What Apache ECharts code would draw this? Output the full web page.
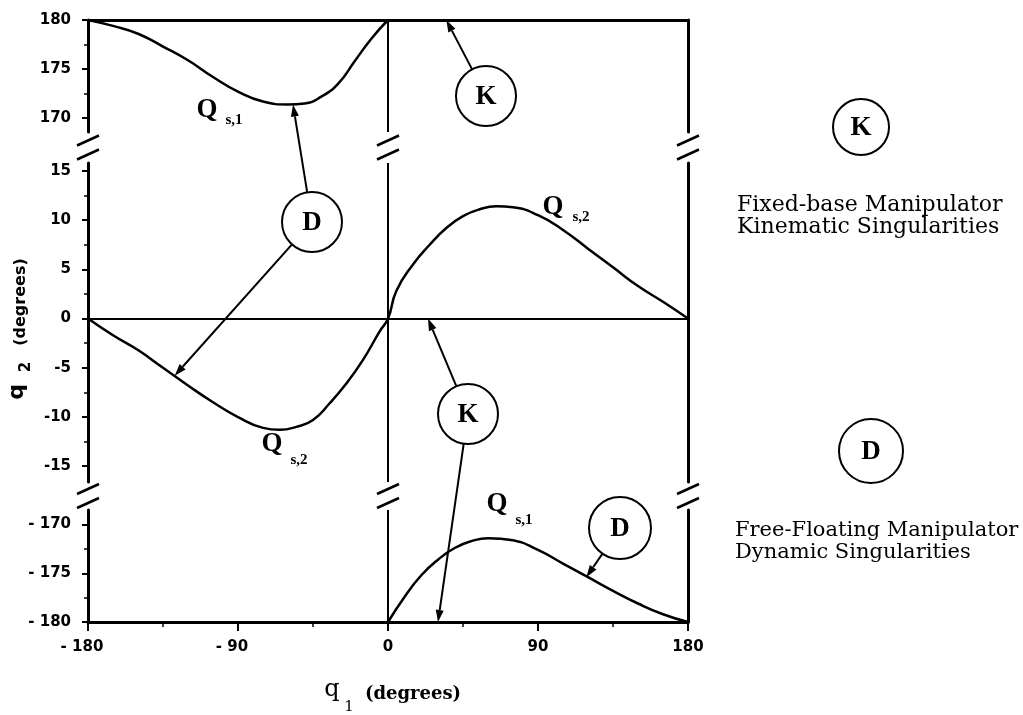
<!DOCTYPE html>
<html>
<head>
<meta charset="utf-8">
<script src="https://cdn.jsdelivr.net/npm/echarts@6/dist/echarts.min.js"></script>
<style>
  html, body { margin: 0; padding: 0; background: #fff; }
  #chart { width: 1023px; height: 715px; }
</style>
</head>
<body>
<div id="chart"></div>
<script>
// Singular configurations of the two-link manipulator, q1 / q2 in degrees.
// Q_s,1 (upper branch, q2 near +180)
const qs1UpperQ1 = [-180, -165, -150, -135, -120, -105, -90, -75, -60, -50, -40, -30, -20, -10, 0];
const qs1UpperQ2 = [180, 179.4, 178.6, 177.3, 175.9, 174.2, 172.7, 171.7, 171.4, 171.5, 172.2, 173.5, 175.8, 178.1, 180];
// Q_s,1 (lower branch, q2 near -180)
const qs1LowerQ1 = [0, 10, 20, 30, 40, 50, 60, 75, 90, 105, 120, 135, 150, 165, 180];
const qs1LowerQ2 = [-180, -177.4, -175.2, -173.6, -172.4, -171.7, -171.4, -171.6, -172.6, -174.0, -175.4, -176.8, -178.1, -179.2, -180];
// Q_s,2 (crosses the origin)
const qs2Q1 = [-180, -165, -150, -135, -120, -105, -90, -75, -65, -55, -45, -35, -25, -15, -5, 0, 5, 15, 25, 35, 45, 55, 65, 75, 90, 105, 120, 135, 150, 165, 180];
const qs2Q2 = [0, -1.7, -3.2, -5.0, -6.8, -8.5, -10.0, -11.1, -11.3, -11.0, -10.3, -8.6, -6.6, -4.2, -1.3, 0, 2.8, 5.5, 7.5, 9.2, 10.4, 11.1, 11.4, 11.3, 10.5, 9.0, 7.1, 5.2, 3.3, 1.7, 0];

// Tick values and their printed labels
const xTickValues = [-180, -90, 0, 90, 180];
const xTickLabels = ['- 180', '- 90', '0', '90', '180'];
const yTopTicks = [170, 175, 180];
const yTopLabels = ['170', '175', '180'];
const yMidTicks = [-15, -10, -5, 0, 5, 10, 15];
const yMidLabels = ['-15', '-10', '-5', '0', '5', '10', '15'];
const yBotTicks = [-180, -175, -170];
const yBotLabels = ['- 180', '- 175', '- 170'];
const yTopMinor = [172.5, 177.5];
const yMidMinor = [-12.5, -7.5, -2.5, 2.5, 7.5, 12.5];
const yBotMinor = [-177.5, -172.5];

// Points the annotation arrows aim at: [segment, q1, q2]
const kinematicTargets = [[0, 35, 180], [1, 24, 0], [2, 30, -180]];
const dynamicTargets = [[0, -57, 171.4], [1, -128, -5.8], [2, 119, -175.4]];

// ---- layout of the three stacked segments of the broken q2 axis ----
const segRanges = [[168.6, 180], [-16.6, 15.8], [-180, -168.5]];
const segBoxes = [{ top: 20, height: 112 }, { top: 163, height: 319 }, { top: 510, height: 112 }];
const segTicks = [yTopTicks, yMidTicks, yBotTicks];
const segLabels = [yTopLabels, yMidLabels, yBotLabels];
const segMinor = [yTopMinor, yMidMinor, yBotMinor];

const BLACK = '#000';
const tickFont = { fontFamily: 'DejaVu Sans', fontWeight: 'bold', fontSize: 15, color: BLACK };

function zip(a, b) { return a.map((v, i) => [v, b[i]]); }
function lookup(values, labels, v) {
  const i = values.findIndex(t => Math.abs(t - v) < 1e-6);
  return i < 0 ? '' : labels[i];
}

const grid = segBoxes.map(b => ({ left: 88, right: 335, top: b.top, height: b.height }));

const xAxis = [0, 1, 2].map(i => ({
  type: 'value', gridIndex: i, min: -180, max: 180, interval: 90,
  position: i === 0 ? 'top' : 'bottom',
  axisLine: { show: true, onZero: i === 1, lineStyle: { color: BLACK, width: i === 1 ? 2 : 3 } },
  axisTick: { show: i === 2, length: 9, lineStyle: { color: BLACK, width: 2 } },
  minorTick: { show: i === 2, splitNumber: 2, length: 5, lineStyle: { color: BLACK, width: 1.5 } },
  axisLabel: {
    show: i === 2, margin: 18, showMinLabel: true, showMaxLabel: true,
    formatter: v => {
      const s = lookup(xTickValues, xTickLabels, v);
      return s.indexOf('- ') === 0 ? '{n|' + s + '}' : '{p|' + s + '}';
    },
    rich: {
      n: Object.assign({ padding: [0, 12, 0, 0] }, tickFont),
      p: Object.assign({}, tickFont)
    }
  },
  splitLine: { show: false }, minorSplitLine: { show: false }
}));

const yAxis = [];
[0, 1, 2].forEach(i => {
  const [mn, mx] = segRanges[i];
  // main axis: line, major ticks and labels
  yAxis.push({
    type: 'value', gridIndex: i, min: mn, max: mx, position: 'left',
    axisLine: { show: true, onZero: false, lineStyle: { color: BLACK, width: 3 } },
    axisTick: { show: true, customValues: segTicks[i], length: 6, lineStyle: { color: BLACK, width: 2 } },
    axisLabel: Object.assign({
      show: true, customValues: segTicks[i], margin: 17,
      formatter: v => lookup(segTicks[i], segLabels[i], v)
    }, tickFont),
    splitLine: { show: false }
  });
  // minor ticks
  yAxis.push({
    type: 'value', gridIndex: i, min: mn, max: mx, position: 'left',
    axisLine: { show: false, onZero: false },
    axisTick: { show: true, customValues: segMinor[i], length: 4, lineStyle: { color: BLACK, width: 1.5 } },
    axisLabel: { show: false }, splitLine: { show: false }
  });
  // right frame
  yAxis.push({
    type: 'value', gridIndex: i, min: mn, max: mx, position: 'right',
    axisLine: { show: true, onZero: false, lineStyle: { color: BLACK, width: 3 } },
    axisTick: { show: false }, axisLabel: { show: false }, splitLine: { show: false }
  });
});

const curveStyle = { type: 'line', smooth: true, symbol: 'none', silent: true,
  lineStyle: { color: BLACK, width: 2.5 } };

const series = [
  Object.assign({ name: 'Qs1 upper', xAxisIndex: 0, yAxisIndex: 0, data: zip(qs1UpperQ1, qs1UpperQ2) }, curveStyle),
  Object.assign({ name: 'Qs2', xAxisIndex: 1, yAxisIndex: 3, data: zip(qs2Q1, qs2Q2) }, curveStyle),
  Object.assign({ name: 'Qs1 lower', xAxisIndex: 2, yAxisIndex: 6, data: zip(qs1LowerQ1, qs1LowerQ2) }, curveStyle)
];
// the q1 = 0 line through every segment
[0, 1, 2].forEach(i => {
  series.push({
    type: 'line', xAxisIndex: i, yAxisIndex: 3 * i, symbol: 'none', silent: true,
    data: [[0, segRanges[i][0]], [0, segRanges[i][1]]],
    lineStyle: { color: BLACK, width: 2 }
  });
});

const chart = echarts.init(document.getElementById('chart'));
chart.setOption({ animation: false, backgroundColor: '#fff', grid, xAxis, yAxis, series });

// ---------- annotations ----------
const toPx = (seg, q1, q2) => chart.convertToPixel({ xAxisIndex: seg, yAxisIndex: 3 * seg }, [q1, q2]);

function text(str, x, y, font, align, extra) {
  return Object.assign({
    type: 'text', x, y, silent: true,
    style: { text: str, font, fill: BLACK, textAlign: align || 'center', align: align || 'center',
      textVerticalAlign: 'middle', verticalAlign: 'middle' }
  }, extra || {});
}
function seg(x1, y1, x2, y2, w) {
  return { type: 'line', silent: true, shape: { x1, y1, x2, y2 },
    style: { stroke: BLACK, lineWidth: w || 2, lineCap: 'butt' } };
}
const letterFont = 'bold 27px "Liberation Serif"';
function ring(cx, cy, r, letter) {
  return [
    { type: 'circle', silent: true, shape: { cx, cy, r }, style: { fill: '#fff', stroke: BLACK, lineWidth: 2 } },
    text(letter, cx, cy + 1, letterFont)
  ];
}
function arrow(cx, cy, r, tip) {
  const dx = tip[0] - cx, dy = tip[1] - cy;
  const len = Math.hypot(dx, dy), ux = dx / len, uy = dy / len;
  const sx = cx + ux * r, sy = cy + uy * r;
  const head = 12, half = 4;
  const bx = tip[0] - ux * head, by = tip[1] - uy * head;
  return [
    seg(sx, sy, bx, by, 2),
    { type: 'polygon', silent: true,
      shape: { points: [[tip[0], tip[1]], [bx - uy * half, by + ux * half], [bx + uy * half, by - ux * half]] },
      style: { fill: BLACK } }
  ];
}

const g = [];

// break marks on the vertical lines
[[0, 1], [1, 2]].forEach(([a, b]) => {
  [-180, 0, 180].forEach(q1 => {
    const p1 = toPx(a, q1, segRanges[a][0]);
    const p2 = toPx(b, q1, segRanges[b][1]);
    const cx = p1[0], cy = (p1[1] + p2[1]) / 2;
    g.push(seg(cx - 11, cy - 2, cx + 11, cy - 12, 2.5));
    g.push(seg(cx - 11, cy + 12, cx + 11, cy + 2, 2.5));
  });
});

// circled markers with arrows
const markers = [
  { letter: 'D', cx: 312, cy: 222, r: 30, targets: [dynamicTargets[0], dynamicTargets[1]] },
  { letter: 'K', cx: 486, cy: 96, r: 30, targets: [kinematicTargets[0]] },
  { letter: 'K', cx: 468, cy: 414, r: 30, targets: [kinematicTargets[1], kinematicTargets[2]] },
  { letter: 'D', cx: 620, cy: 528, r: 31, targets: [dynamicTargets[2]] }
];
markers.forEach(m => {
  m.targets.forEach(t => g.push(...arrow(m.cx, m.cy, m.r, toPx(t[0], t[1], t[2]))));
  g.push(...ring(m.cx, m.cy, m.r, m.letter));
});

// curve names
const qFont = 'bold 27px "Liberation Serif"';
const subFont = 'bold 15px "Liberation Serif"';
[
  { x: 207, y: 110, sx: 234, sy: 120, sub: 's,1' },
  { x: 553, y: 207, sx: 581, sy: 217, sub: 's,2' },
  { x: 272, y: 444, sx: 299, sy: 460, sub: 's,2' },
  { x: 497, y: 504, sx: 524, sy: 520, sub: 's,1' }
].forEach(l => {
  g.push(text('Q', l.x, l.y, qFont));
  g.push(text(l.sub, l.sx, l.sy, subFont));
});

// legend
g.push(...ring(861, 127, 28, 'K'));
g.push(text('Fixed-base Manipulator', 737, 205, '22px "DejaVu Serif"', 'left'));
g.push(text('Kinematic Singularities', 737, 227, '22px "DejaVu Serif"', 'left'));
g.push(...ring(871, 451, 32, 'D'));
g.push(text('Free-Floating Manipulator', 735, 531, '21px "DejaVu Serif"', 'left'));
g.push(text('Dynamic Singularities', 735, 553, '21px "DejaVu Serif"', 'left'));

// axis titles
g.push(text('q', 332, 690, '24px "DejaVu Serif"'));
g.push(text('1', 349, 707, '15px "DejaVu Serif"'));
g.push(text('(degrees)', 413, 694, 'bold 18px "DejaVu Serif"'));
g.push(text('(degrees)', 21, 302, 'bold 16px "DejaVu Sans"', 'center', { rotation: Math.PI / 2 }));
g.push(text('q', 17, 392, 'bold 22px "DejaVu Sans"', 'center', { rotation: Math.PI / 2 }));
g.push(text('2', 26, 367, 'bold 15px "DejaVu Sans"', 'center', { rotation: Math.PI / 2 }));

chart.setOption({ graphic: { elements: g } });
</script>
</body>
</html>
